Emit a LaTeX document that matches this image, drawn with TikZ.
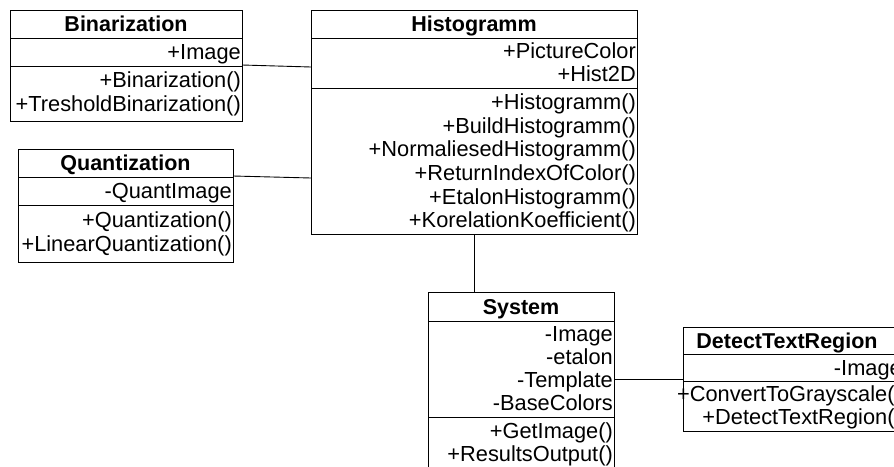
\documentclass[tikz,border=0pt]{standalone}
\usepackage{fontspec}
\setmainfont{Liberation Sans}
\begin{document}
\begin{tikzpicture}[x=1pt,y=-1pt,
  box/.style={draw=black,line width=0.9pt,fill=none},
  sepline/.style={draw=black,line width=0.9pt},
  conn/.style={draw=black,line width=0.9pt},
  ttl/.style={inner sep=0pt,font=\fontsize{21.5}{24}\selectfont\bfseries,text height=16pt,text depth=4pt},
  row/.style={inner sep=0pt,anchor=east,font=\fontsize{21.8}{24}\selectfont,text height=16pt,text depth=4pt}]
\useasboundingbox (0,0) rectangle (894,466);
% Binarization
\draw[box] (10,10) rectangle (242,121);
\draw[sepline] (10,38) -- (242,38);
\draw[sepline] (10,66) -- (242,66);
\node[ttl] (binT) at (126,25) {Binarization};
\node[row] (binA1) at (241,53) {+Image};
\node[row] (binM1) at (241,81) {+Binarization()};
\node[row] (binM2) at (241,105) {+TresholdBinarization()};
\coordinate (binR) at (242,65);
% Histogramm
\draw[box] (311,10) rectangle (637,234);
\draw[sepline] (311,38) -- (637,38);
\draw[sepline] (311,88) -- (637,88);
\node[ttl] (hisT) at (474,25) {Histogramm};
\node[row] (hisA1) at (636,52) {+PictureColor};
\node[row] (hisA2) at (636,75) {+Hist2D};
\node[row] (hisM1) at (636,103) {+Histogramm()};
\node[row] (hisM2) at (636,127) {+BuildHistogramm()};
\node[row] (hisM3) at (636,150) {+NormaliesedHistogramm()};
\node[row] (hisM4) at (636,174) {+ReturnIndexOfColor()};
\node[row] (hisM5) at (636,198) {+EtalonHistogramm()};
\node[row] (hisM6) at (636,221) {+KorelationKoefficient()};
\coordinate (hisL1) at (311,67);
\coordinate (hisL2) at (311,178);
\coordinate (hisB) at (474,234);
% Quantization
\draw[box] (18,149) rectangle (233,262);
\draw[sepline] (18,177) -- (233,177);
\draw[sepline] (18,205) -- (233,205);
\node[ttl] (quaT) at (125.5,164) {Quantization};
\node[row] (quaA1) at (232,192) {-QuantImage};
\node[row] (quaM1) at (232,221) {+Quantization()};
\node[row] (quaM2) at (232,245) {+LinearQuantization()};
\coordinate (quaR) at (233,176);
% System
\draw[box] (428,292) rectangle (614,480);
\draw[sepline] (428,321) -- (614,321);
\draw[sepline] (428,417) -- (614,417);
\node[ttl] (sysT) at (521,308) {System};
\node[row] (sysA1) at (613,335) {-Image};
\node[row] (sysA2) at (613,358) {-etalon};
\node[row] (sysA3) at (613,381) {-Template};
\node[row] (sysA4) at (613,404) {-BaseColors};
\node[row] (sysM1) at (613,432) {+GetImage()};
\node[row] (sysM2) at (613,455) {+ResultsOutput()};
\coordinate (sysT0) at (474,292);
\coordinate (sysR) at (614,379);
% DetectTextRegion
\draw[box] (683,327) rectangle (903,431);
\draw[sepline] (683,354) -- (903,354);
\draw[sepline] (683,381) -- (903,381);
\node[ttl] (detT) at (787,342) {DetectTextRegion};
\node[row] (detA1) at (902,369) {-Image};
\node[row] (detM1) at (902,395) {+ConvertToGrayscale()};
\node[row] (detM2) at (902,418) {+DetectTextRegion()};
\coordinate (detL) at (683,379);
% connectors
\draw[conn] (binR) -- (hisL1);
\draw[conn] (quaR) -- (hisL2);
\draw[conn] (hisB) -- (sysT0);
\draw[conn] (sysR) -- (detL);
\end{tikzpicture}
\end{document}
